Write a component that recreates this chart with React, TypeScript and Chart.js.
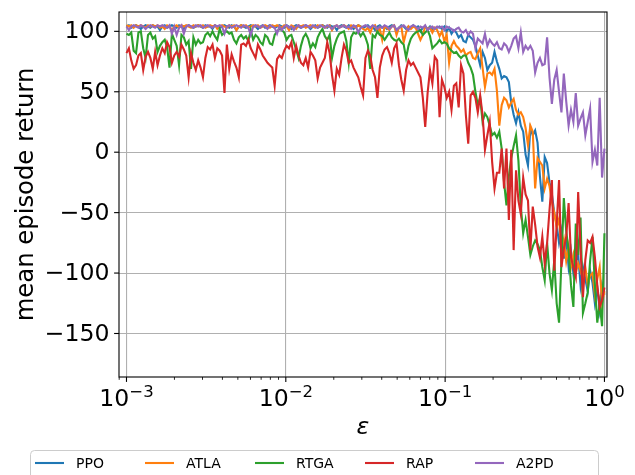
import { useEffect, useRef } from 'react';
import { Chart, registerables } from 'chart.js';

Chart.register(...registerables);

// log10(epsilon) sample grid
const EXPONENTS = [
  -3, -2.985, -2.97, -2.955, -2.94, -2.925, -2.91, -2.895, -2.88, -2.865,
  -2.85, -2.835, -2.82, -2.805, -2.79, -2.775, -2.76, -2.745, -2.73, -2.715,
  -2.7, -2.685, -2.67, -2.655, -2.64, -2.625, -2.61, -2.595, -2.58, -2.565,
  -2.55, -2.535, -2.52, -2.505, -2.49, -2.475, -2.46, -2.445, -2.43, -2.415,
  -2.4, -2.385, -2.37, -2.355, -2.34, -2.325, -2.31, -2.295, -2.28, -2.265,
  -2.25, -2.235, -2.22, -2.205, -2.19, -2.175, -2.16, -2.145, -2.13, -2.115,
  -2.1, -2.085, -2.07, -2.055, -2.04, -2.025, -2.01, -1.995, -1.98, -1.965,
  -1.95, -1.935, -1.92, -1.905, -1.89, -1.875, -1.86, -1.845, -1.83, -1.815,
  -1.8, -1.785, -1.77, -1.755, -1.74, -1.725, -1.71, -1.695, -1.68, -1.665,
  -1.65, -1.635, -1.62, -1.605, -1.59, -1.575, -1.56, -1.545, -1.53, -1.515,
  -1.5, -1.485, -1.47, -1.455, -1.44, -1.425, -1.41, -1.395, -1.38, -1.365,
  -1.35, -1.335, -1.32, -1.305, -1.29, -1.275, -1.26, -1.245, -1.23, -1.215,
  -1.2, -1.185, -1.17, -1.155, -1.14, -1.125, -1.11, -1.095, -1.08, -1.065,
  -1.05, -1.035, -1.02, -1.005, -0.99, -0.975, -0.96, -0.945, -0.93, -0.915,
  -0.9, -0.885, -0.87, -0.855, -0.84, -0.825, -0.81, -0.795, -0.78, -0.765,
  -0.75, -0.735, -0.72, -0.705, -0.69, -0.675, -0.66, -0.645, -0.63, -0.615,
  -0.6, -0.585, -0.57, -0.555, -0.54, -0.525, -0.51, -0.495, -0.48, -0.465,
  -0.45, -0.435, -0.42, -0.405, -0.39, -0.375, -0.36, -0.345, -0.33, -0.315,
  -0.3, -0.285, -0.27, -0.255, -0.24, -0.225, -0.21, -0.195, -0.18, -0.165,
  -0.15, -0.135, -0.12, -0.105, -0.09, -0.075, -0.06, -0.045, -0.03, -0.015,
  0,
];

const PPO = [
  104, 105, 103, 104, 105, 104, 102, 104, 105, 104,
  103, 105, 104, 104, 101, 104, 105, 103, 104, 105,
  104, 103, 105, 104, 102, 104, 105, 104, 103, 104,
  105, 104, 103, 105, 104, 104, 102, 105, 104, 103,
  104, 105, 104, 103, 105, 104, 101, 104, 105, 104,
  103, 104, 105, 104, 104, 102, 104, 105, 103, 104,
  105, 104, 103, 104, 105, 104, 103, 105, 104, 102,
  104, 105, 104, 103, 104, 105, 104, 102, 104, 105,
  103, 104, 105, 104, 103, 105, 104, 104, 101, 104,
  105, 104, 103, 105, 104, 102, 104, 105, 104, 103,
  104, 105, 103, 104, 101, 104, 105, 103, 104, 102,
  104, 105, 104, 101, 103, 105, 104, 102, 104, 103,
  105, 103, 104, 100, 103, 104, 102, 104, 101, 103,
  103, 104, 102, 104, 100, 103, 98, 101, 99, 95,
  97, 92, 91, 97, 95, 93, 88, 80, 72, 83,
  78, 68, 72, 74, 83, 75, 69, 61, 63, 62,
  58, 41, 31, 24, 33, 22, 17, -2, -11, 20,
  14, 18, 8, -20, -41, -4, -9, -25, -35, -50,
  -60, -75, -65, -88, -70, -95, -82, -100, -90, -85,
  -110, -95, -105, -115, -98, -108, -125, -112, -130, -110,
  -118,
];

const ATLA = [
  105, 104, 105, 103, 105, 104, 105, 104, 103, 105,
  104, 105, 104, 105, 103, 104, 102, 105, 104, 101,
  104, 105, 103, 105, 104, 105, 104, 103, 105, 104,
  105, 104, 105, 103, 104, 105, 104, 105, 102, 104,
  105, 104, 103, 105, 104, 105, 101, 104, 105, 104,
  105, 103, 104, 105, 104, 105, 103, 104, 105, 104,
  103, 105, 104, 105, 104, 103, 105, 104, 101, 105,
  104, 102, 105, 104, 105, 103, 104, 105, 104, 103,
  105, 104, 105, 103, 104, 105, 101, 104, 105, 103,
  104, 105, 104, 102, 105, 104, 103, 105, 104, 102,
  101, 103, 99, 104, 105, 100, 102, 93, 104, 103,
  101, 104, 105, 97, 103, 104, 91, 99, 104, 102,
  104, 103, 98, 93, 97, 104, 102, 103, 99, 103,
  101, 96, 100, 92, 97, 74, 88, 92, 88, 86,
  83, 85, 80, 82, 83, 78, 77, 82, 86, 70,
  54, 65, 66, 64, 69, 51, 22, 39, 45, 43,
  37, 41, 44, 35, 31, 33, 29, 20, 6, 22,
  17, -30, -5, -8, -11, -30, -22, -28, -41, -50,
  -62, -55, -80, -72, -90, -78, -95, -85, -100, -92,
  -98, -105, -95, -110, -102, -100, -118, -105, -95, -125,
  -115,
];

const RTGA = [
  98, 97, 99, 84, 82, 99, 100, 86, 78, 97,
  99, 94, 96, 83, 88, 91, 93, 87, 70, 98,
  93, 88, 72, 97, 95, 89, 92, 69, 95, 89,
  93, 90, 91, 97, 99, 96, 100, 96, 93, 102,
  97, 99, 100, 98, 99, 93, 90, 95, 97, 94,
  96, 92, 101, 93, 97, 95, 91, 89, 97, 95,
  90, 89, 97, 100, 102, 101, 99, 93, 96, 97,
  91, 85, 78, 88, 95, 98, 94, 86, 90, 87,
  95, 99, 102, 96, 93, 97, 78, 88, 94, 98,
  99, 100, 92, 74, 95, 99, 98, 100, 96, 99,
  95, 89, 69, 97, 95, 100, 97, 96, 93, 96,
  99, 95, 93, 92, 94, 91, 89, 78, 88, 94,
  97, 99, 100, 101, 97, 99, 101, 96, 86, 88,
  90, 93, 90, 91, 90, 86, 84, 82, 83, 80,
  78, 80, 80, 74, 70, 64, 50, 39, 45, 25,
  32, 29, 22, 14, 16, 12, 17, 3, -25, -44,
  -20, -5, 5, 14, -7, -45, -67, -56, -70, -85,
  -78, -73, -76, -81, -95, -106, -75, -100, -114, -89,
  -125, -141, -90, -38, -65, -81, -110, -128, -59, -85,
  -54, -133, -125, -116, -90, -70, -110, -141, -125, -144,
  -67,
];

const RAP = [
  82, 86, 76, 69, 72, 80, 82, 68, 79, 83,
  78, 69, 83, 72, 80, 86, 82, 91, 87, 74,
  80, 83, 79, 89, 85, 80, 62, 82, 74, 68,
  76, 70, 62, 78, 87, 85, 89, 78, 86, 84,
  80, 49, 89, 69, 81, 75, 70, 62, 89, 90,
  88, 93, 86, 82, 78, 89, 85, 80, 77, 74,
  72, 70, 55, 77, 80, 78, 84, 88, 86, 91,
  78, 88, 80, 74, 72, 78, 70, 83, 80, 76,
  61, 70, 74, 78, 91, 82, 64, 51, 69, 64,
  78, 89, 84, 74, 76, 70, 66, 62, 54, 47,
  78, 84, 80, 68, 62, 45, 70, 80, 85, 87,
  82, 74, 86, 90, 72, 60, 51, 68, 76, 72,
  74, 70, 66, 62, 45, 21, 49, 68, 57, 79,
  76, 29, 60, 54, 45, 50, 35, 55, 57, 37,
  72, 65, 31, 7, 47, 50, 45, 33, 47, 31,
  2, 14, 25, -8, -30, -17, -17, 3, -30, 3,
  -56, 2, -81, -15, -40, -51, -21, -35, -40, -81,
  -45, -60, -78, -87, -70, -92, -75, -48, -23, -98,
  -60, -23, -95, -80, -70, -42, -87, -95, -103, -33,
  -80, -120, -89, -73, -75, -70, -87, -110, -128, -122,
  -112,
];

const A2PD = [
  104, 101, 104, 105, 104, 103, 105, 104, 102, 104,
  105, 104, 103, 105, 104, 105, 104, 103, 105, 98,
  104, 97, 103, 105, 98, 104, 105, 104, 103, 105,
  104, 105, 103, 104, 105, 104, 103, 105, 104, 105,
  104, 98, 104, 105, 103, 104, 105, 104, 103, 105,
  104, 103, 97, 104, 105, 104, 103, 105, 104, 102,
  105, 104, 103, 98, 104, 101, 104, 105, 103, 104,
  101, 104, 105, 103, 104, 105, 104, 103, 105, 104,
  103, 105, 104, 103, 105, 104, 102, 104, 105, 103,
  104, 105, 103, 104, 102, 105, 104, 99, 103, 104,
  105, 104, 103, 105, 104, 102, 104, 103, 105, 104,
  102, 104, 105, 101, 103, 104, 105, 103, 101, 104,
  105, 104, 102, 104, 103, 105, 101, 103, 104, 102,
  104, 103, 104, 101, 104, 103, 102, 100, 102, 103,
  100, 99, 101, 97, 100, 98, 86, 94, 92, 90,
  98, 88, 93, 90, 88, 91, 86, 85, 90, 88,
  83, 88, 94, 96, 86, 99, 83, 88, 85, 88,
  84, 66, 74, 78, 72, 73, 95, 62, 40, 60,
  68, 50, 33, 65, 42, 22, 35, 25, 49, 22,
  28, 33, 14, 25, 36, -8, 2, -11, 45, -21,
  3,
];

const SERIES_NAMES = ['PPO', 'ATLA', 'RTGA', 'RAP', 'A2PD'];
const SERIES_VALUES = [PPO, ATLA, RTGA, RAP, A2PD];
const COLORS = ['#1f77b4', '#ff7f0e', '#2ca02c', '#d62728', '#9467bd'];

const X_MAJOR = [0.001, 0.01, 0.1, 1];
const X_MAJOR_SUP = ['\u22123', '\u22122', '\u22121', '0'];
const Y_TICKS = [-150, -100, -50, 0, 50, 100];
const X_TITLE = '\u03b5';
const Y_TITLE = 'mean episode return';

const FONT = '"DejaVu Sans", sans-serif';
const TICK_PX = 23.6;
const SUP_PX = 16.5;

function fmtY(v: number) {
  return v < 0 ? '\u2212' + Math.abs(v) : String(v);
}

const overlay = {
  id: 'mplOverlay',
  afterDraw(chart: any) {
    const ctx = chart.ctx as CanvasRenderingContext2D;
    const area = chart.chartArea;
    const xs = chart.scales.x;
    const ys = chart.scales.y;
    ctx.save();

    // spines
    ctx.strokeStyle = '#000';
    ctx.lineWidth = 1.1;
    ctx.strokeRect(area.left, area.top, area.right - area.left, area.bottom - area.top);

    // x major ticks + labels
    ctx.fillStyle = '#000';
    ctx.textBaseline = 'alphabetic';
    X_MAJOR.forEach((v, i) => {
      const px = xs.getPixelForValue(v);
      ctx.beginPath();
      ctx.moveTo(px, area.bottom);
      ctx.lineTo(px, area.bottom + 4.9);
      ctx.stroke();
      ctx.font = TICK_PX + 'px ' + FONT;
      const w1 = ctx.measureText('10').width;
      ctx.font = SUP_PX + 'px ' + FONT;
      const w2 = ctx.measureText(X_MAJOR_SUP[i]).width;
      const x0 = px - (w1 + w2) / 2;
      ctx.textAlign = 'left';
      ctx.font = TICK_PX + 'px ' + FONT;
      ctx.fillText('10', x0, 406);
      ctx.font = SUP_PX + 'px ' + FONT;
      ctx.fillText(X_MAJOR_SUP[i], x0 + w1, 397);
    });

    // x minor ticks
    ctx.lineWidth = 0.85;
    for (let d = -4; d <= 0; d++) {
      for (let m = 2; m <= 9; m++) {
        const v = m * Math.pow(10, d);
        if (v < xs.min || v > xs.max) continue;
        const px = xs.getPixelForValue(v);
        ctx.beginPath();
        ctx.moveTo(px, area.bottom);
        ctx.lineTo(px, area.bottom + 2.8);
        ctx.stroke();
      }
    }

    // y ticks + labels
    ctx.lineWidth = 1.1;
    ctx.font = TICK_PX + 'px ' + FONT;
    ctx.textAlign = 'right';
    ctx.textBaseline = 'middle';
    Y_TICKS.forEach((v) => {
      const py = ys.getPixelForValue(v);
      ctx.beginPath();
      ctx.moveTo(area.left, py);
      ctx.lineTo(area.left - 4.9, py);
      ctx.stroke();
      ctx.fillText(fmtY(v), 109.5, py + 1);
    });

    // axis titles
    ctx.textAlign = 'center';
    ctx.textBaseline = 'alphabetic';
    ctx.font = 'italic ' + TICK_PX + 'px ' + FONT;
    ctx.fillText(X_TITLE, (area.left + area.right) / 2, 434);

    ctx.save();
    ctx.translate(27, (area.top + area.bottom) / 2);
    ctx.rotate(-Math.PI / 2);
    ctx.font = '24.3px ' + FONT;
    ctx.textBaseline = 'middle';
    ctx.fillText(Y_TITLE, 0, 0);
    ctx.restore();

    // legend
    const bx = 30.5, by = 450.5, bw = 568, bh = 30, r = 4;
    ctx.beginPath();
    ctx.moveTo(bx + r, by);
    ctx.lineTo(bx + bw - r, by);
    ctx.quadraticCurveTo(bx + bw, by, bx + bw, by + r);
    ctx.lineTo(bx + bw, by + bh);
    ctx.lineTo(bx, by + bh);
    ctx.lineTo(bx, by + r);
    ctx.quadraticCurveTo(bx, by, bx + r, by);
    ctx.closePath();
    ctx.fillStyle = 'rgba(255,255,255,0.8)';
    ctx.fill();
    ctx.strokeStyle = '#cccccc';
    ctx.lineWidth = 1;
    ctx.stroke();

    ctx.font = '14px ' + FONT;
    ctx.textAlign = 'left';
    ctx.textBaseline = 'middle';
    SERIES_NAMES.forEach((name, k) => {
      const hx = 35 + 110 * k;
      const hy = 463;
      ctx.strokeStyle = COLORS[k];
      ctx.lineWidth = 2.1;
      ctx.beginPath();
      ctx.moveTo(hx, hy);
      ctx.lineTo(hx + 29, hy);
      ctx.stroke();
      ctx.fillStyle = '#000';
      ctx.fillText(name, hx + 41, hy + 1);
    });

    ctx.restore();
  },
};

export default function App() {
  const ref = useRef<HTMLCanvasElement | null>(null);

  useEffect(() => {
    if (!ref.current) return;
    const datasets = SERIES_VALUES.map((vals, k) => ({
      label: SERIES_NAMES[k],
      data: vals.map((y, i) => ({ x: Math.pow(10, EXPONENTS[i]), y })),
      borderColor: COLORS[k],
      backgroundColor: COLORS[k],
      borderWidth: 2.1,
      pointRadius: 0,
      tension: 0,
      fill: false,
      order: SERIES_NAMES.length - k,
    }));

    const chart = new Chart(ref.current, {
      type: 'line',
      data: { datasets },
      options: {
        animation: false,
        responsive: false,
        maintainAspectRatio: false,
        parsing: false as any,
        normalized: true,
        layout: { padding: { left: 0, top: 12, right: 28, bottom: 0 } },
        plugins: { legend: { display: false }, tooltip: { enabled: false } },
        scales: {
          x: {
            type: 'logarithmic',
            min: Math.pow(10, -3.047),
            max: Math.pow(10, 0.016),
            ticks: { display: false },
            grid: { color: '#b0b0b0', lineWidth: 1.1, drawTicks: false },
            border: { display: false },
            afterBuildTicks: (s: any) => {
              s.ticks = X_MAJOR.map((v) => ({ value: v }));
            },
            afterFit: (s: any) => {
              s.height = 98;
            },
          },
          y: {
            type: 'linear',
            min: -186,
            max: 116,
            ticks: { display: false },
            grid: { color: '#b0b0b0', lineWidth: 1.1, drawTicks: false },
            border: { display: false },
            afterBuildTicks: (s: any) => {
              s.ticks = Y_TICKS.map((v) => ({ value: v }));
            },
            afterFit: (s: any) => {
              s.width = 119;
            },
          },
        },
      } as any,
      plugins: [overlay],
    });
    return () => chart.destroy();
  }, []);

  return (
    <div style={{ position: 'fixed', left: 0, top: 0, width: 635, height: 475, background: '#fff' }}>
      <canvas ref={ref} width={635} height={475} style={{ width: 635, height: 475, display: 'block' }} />
    </div>
  );
}
